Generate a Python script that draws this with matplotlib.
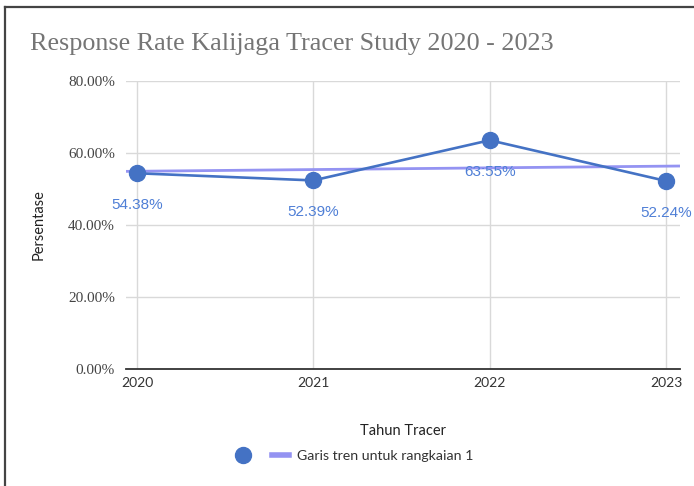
import numpy as np
import matplotlib.pyplot as plt
from matplotlib.lines import Line2D

# data
years = [2020, 2021, 2022, 2023]
rates = [54.38, 52.39, 63.55, 52.24]
rate_labels = ["54.38%", "52.39%", "63:55%", "52.24%"]
y_ticks = [0, 20, 40, 60, 80]
y_tick_labels = ["0.00%", "20.00%", "40.00%", "60.00%", "80.00%"]

line_color = "#4472c4"
label_color = "#4f7fd6"
trend_color = "#9493f2"
sans = ["Lato", "DejaVu Sans"]
serif = ["Liberation Serif", "DejaVu Serif"]

fig = plt.figure(figsize=(6.94, 4.86), dpi=100)
ax = fig.add_axes([0.1816, 0.2407, 0.7982, 0.5926])

xlim = (2019.938, 2023.079)
ax.set_xlim(*xlim)
ax.set_ylim(0, 80)

# trend line (least squares)
slope, icpt = np.polyfit(years, rates, 1)
tx = np.array(xlim)
ax.plot(tx, slope * tx + icpt, color=trend_color, lw=2.0, zorder=2, solid_capstyle="butt")

ax.plot(years, rates, color=line_color, lw=1.9, marker="o", markersize=11.5, zorder=3)

for x, y, lab in zip(years, rates, rate_labels):
    ax.annotate(lab, (x, y), xytext=(0, -23), textcoords="offset points",
                ha="center", va="center", color=label_color, fontsize=11,
                family=["Liberation Sans", "DejaVu Sans"], zorder=4)

ax.set_yticks(y_ticks)
ax.set_yticklabels(y_tick_labels, family=serif, fontsize=11, color="#444444")
ax.set_xticks(years)
ax.set_xticklabels([str(y) for y in years], family=sans, fontsize=10, color="#333333")
ax.tick_params(axis="both", length=0)
ax.tick_params(axis="y", pad=8)
ax.tick_params(axis="x", pad=6)
ax.grid(True, color="#d9d9d9", lw=1)
ax.set_axisbelow(True)
for s in ["top", "right", "left"]:
    ax.spines[s].set_visible(False)
ax.spines["bottom"].set_color("#333333")
ax.spines["bottom"].set_linewidth(1.3)

ax.set_ylabel("Persentase", family=sans, fontsize=10.5, color="#222222", labelpad=16)
ax.set_xlabel("Tahun Tracer", family=sans, fontsize=10.5, color="#222222", labelpad=25)

fig.text(30 / 694, 1 - 44 / 486, "Response Rate Kalijaga Tracer Study 2020 - 2023",
         family=serif, fontsize=18.8, color="#757575", va="center", ha="left")

h1 = Line2D([], [], color=line_color, marker="o", markersize=11.5, lw=0)
h2 = Line2D([], [], color=trend_color, lw=4)
fig.legend(handles=[h1, h2], labels=["", "Garis tren untuk rangkaian 1"], ncol=2,
           loc="center left", bbox_to_anchor=(222 / 694, 1 - 456 / 486), frameon=False,
           prop={"family": sans, "size": 10.2}, handlelength=1.2, handletextpad=0.6,
           columnspacing=0.8, labelcolor="#333333")

# frame lines of the screenshot
fig.add_artist(Line2D([4.5 / 694, 1.0], [1 - 7 / 486, 1 - 7 / 486], color="#444444", lw=1.6))
fig.add_artist(Line2D([4.5 / 694, 4.5 / 694], [0, 1 - 7 / 486], color="#444444", lw=1.6))

fig.savefig("out.png", dpi=100)
